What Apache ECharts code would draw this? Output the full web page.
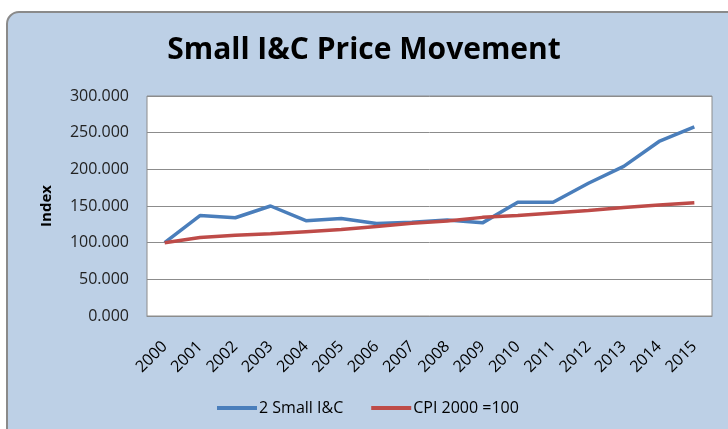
<!DOCTYPE html>
<html>
<head>
<meta charset="utf-8">
<script src="https://cdn.jsdelivr.net/npm/echarts@6/dist/echarts.min.js"></script>
<style>
  html, body { margin: 0; padding: 0; background: #fff; }
  #chart { width: 728px; height: 429px; }
</style>
</head>
<body>
<div id="chart"></div>
<script>
var years = ['2000', '2001', '2002', '2003', '2004', '2005', '2006', '2007',
  '2008', '2009', '2010', '2011', '2012', '2013', '2014', '2015'];
var smallIC = [100, 137, 134, 150, 130, 133, 126, 128, 131, 127, 155, 155, 181, 204, 238, 258];
var cpi = [100, 107, 110, 112, 115, 118, 122, 126.5, 129.5, 134.5, 137, 140.5, 144, 148, 151.5, 154.5];
var seriesNames = ['2 Small I&C', 'CPI 2000 =100'];

var FONT = '"Open Sans", sans-serif';
var chart = echarts.init(document.getElementById('chart'));

var option = {
  backgroundColor: '#ffffff',
  animation: false,
  color: ['#4a7ebb', '#be4b48'],
  graphic: [
    {
      type: 'rect',
      z: -10,
      silent: true,
      shape: { x: 7, y: 12, width: 736, height: 430, r: 12 },
      style: { fill: '#bdd0e6', stroke: '#8a8a8a', lineWidth: 2 }
    }
  ],
  title: {
    text: 'Small I&C Price Movement',
    left: 'center',
    top: 30,
    textStyle: {
      fontFamily: FONT,
      fontWeight: 'bold',
      fontSize: 30,
      color: '#000'
    }
  },
  legend: {
    data: seriesNames,
    left: 212,
    top: 395,
    icon: 'rect',
    itemWidth: 40,
    itemHeight: 4,
    itemGap: 28,
    textStyle: { fontFamily: FONT, fontSize: 16, color: '#000', padding: [0, 0, 0, -3] }
  },
  grid: {
    left: 147,
    right: 16,
    top: 96,
    bottom: 113,
    show: true,
    backgroundColor: '#ffffff',
    borderColor: '#8c8c8c',
    borderWidth: 1
  },
  xAxis: {
    type: 'category',
    data: years,
    boundaryGap: true,
    axisLine: { lineStyle: { color: '#8c8c8c' } },
    axisTick: { show: false },
    axisLabel: {
      rotate: 45,
      margin: 28,
      interval: 0,
      fontFamily: FONT,
      fontSize: 16,
      color: '#000'
    }
  },
  yAxis: {
    type: 'value',
    min: 0,
    max: 300,
    interval: 50,
    name: 'Index',
    nameLocation: 'middle',
    nameGap: 93,
    nameTextStyle: { fontFamily: FONT, fontWeight: 'bold', fontSize: 15, color: '#000' },
    axisLine: { show: false },
    axisTick: { show: false },
    axisLabel: {
      margin: 18,
      fontFamily: FONT,
      fontSize: 16,
      color: '#222',
      formatter: function (v) { return v.toFixed(3); }
    },
    splitLine: { lineStyle: { color: '#8c8c8c', width: 1 } }
  },
  series: [
    {
      name: seriesNames[0],
      type: 'line',
      data: smallIC,
      symbol: 'none',
      lineStyle: { width: 3.5 }
    },
    {
      name: seriesNames[1],
      type: 'line',
      data: cpi,
      symbol: 'none',
      lineStyle: { width: 3.5 }
    }
  ]
};

chart.setOption(option);
</script>
</body>
</html>
